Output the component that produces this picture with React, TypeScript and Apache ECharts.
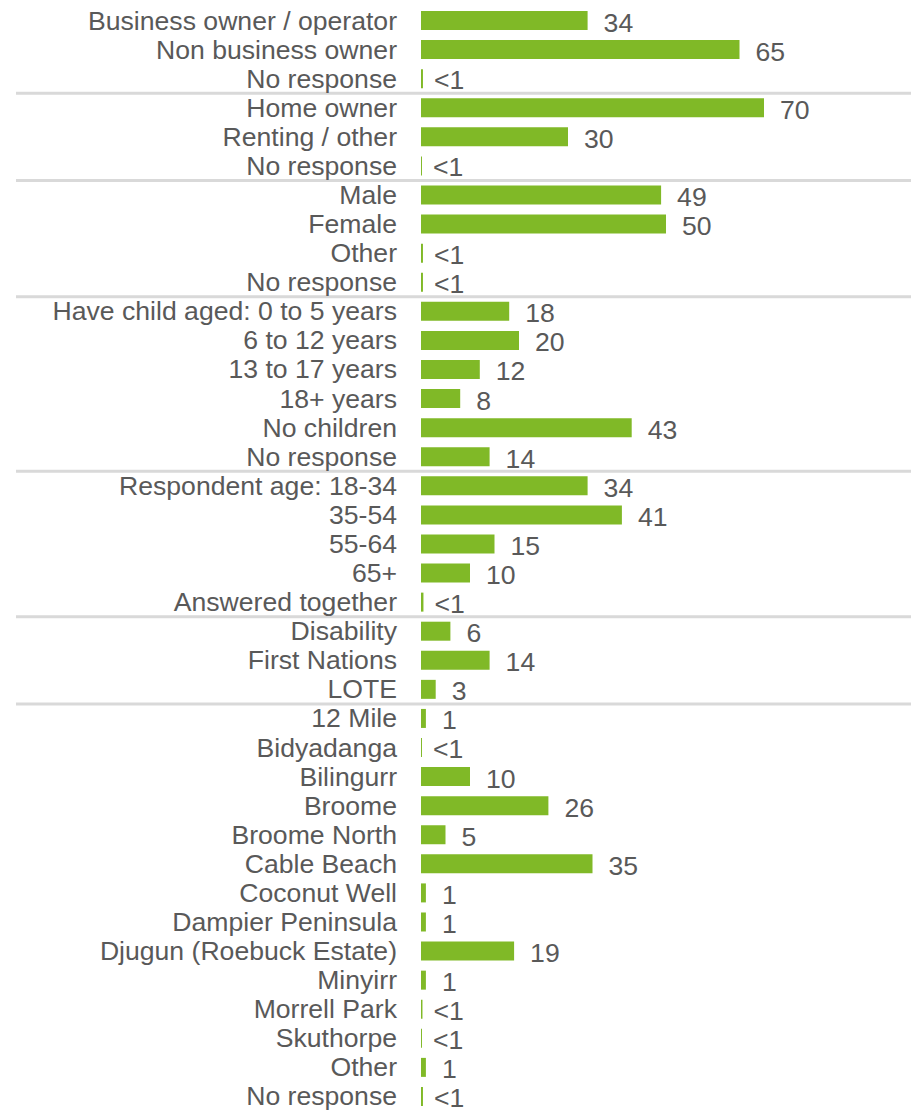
import React, { useEffect, useRef } from "react";
import * as echarts from "echarts";

const categories: string[] = [
  "Business owner / operator", "Non business owner", "No response",
  "Home owner", "Renting / other", "No response",
  "Male", "Female", "Other", "No response",
  "Have child aged: 0 to 5 years", "6 to 12 years", "13 to 17 years", "18+ years", "No children", "No response",
  "Respondent age: 18-34", "35-54", "55-64", "65+", "Answered together",
  "Disability", "First Nations", "LOTE",
  "12 Mile", "Bidyadanga", "Bilingurr", "Broome", "Broome North", "Cable Beach", "Coconut Well",
  "Dampier Peninsula", "Djugun (Roebuck Estate)", "Minyirr", "Morrell Park", "Skuthorpe", "Other", "No response",
];

const values: number[] = [
  34, 65, 0.4,
  70, 30, 0.2,
  49, 50, 0.4, 0.4,
  18, 20, 12, 8, 43, 14,
  34, 41, 15, 10, 0.5,
  6, 14, 3,
  1, 0.2, 10, 26, 5, 35, 1,
  1, 19, 1, 0.3, 0.2, 1, 0.4,
];

// index of the first category of each group after the first
const groupStarts: number[] = [3, 6, 10, 16, 21, 24];

const xMax = 100;

export default function App() {
  const ref = useRef<HTMLDivElement>(null);
  useEffect(() => {
    if (!ref.current) return;
    const chart = echarts.init(ref.current, undefined, { renderer: "svg" });
    const textColor = "#595959";
    const font = "Liberation Sans, Arial, sans-serif";
    const fs = 26.6;
    chart.setOption({
      animation: false,
      grid: { left: 421, right: 0, top: 6, bottom: 0, containLabel: false },
      xAxis: { type: "value", min: 0, max: xMax, show: false },
      yAxis: {
        type: "category",
        data: categories,
        inverse: true,
        axisLine: { show: false },
        axisTick: { show: false },
        splitLine: { show: false },
        axisLabel: {
          margin: 24,
          color: textColor,
          fontSize: fs,
          lineHeight: 22,
          fontFamily: font,
          interval: 0,
        },
      },
      series: [
        {
          type: "bar",
          data: values.map((v) =>
            v < 1 ? { value: v, label: { offset: [-5, 1.5] } } : { value: v }
          ),
          barWidth: 19,
          itemStyle: { color: "#80B927" },
          label: {
            show: true,
            position: "right",
            distance: 16,
            offset: [0, 2],
            color: textColor,
            fontSize: fs,
            lineHeight: 20,
            fontFamily: font,
            formatter: (p: any) => (p.value < 1 ? "<1" : String(Math.round(p.value))),
          },
        },
      ],
    });
    const lines = groupStarts.map((i) => {
      const a = chart.convertToPixel({ yAxisIndex: 0 }, i - 1) as number;
      const b = chart.convertToPixel({ yAxisIndex: 0 }, i) as number;
      const y = (a + b) / 2;
      return {
        type: "line",
        shape: { x1: 16, y1: y, x2: 911, y2: y },
        style: { stroke: "#D9D9D9", lineWidth: 3 },
        silent: true,
      };
    });
    chart.setOption({ graphic: lines });
    return () => chart.dispose();
  }, []);
  return (
    <div
      ref={ref}
      style={{ position: "absolute", left: 0, top: 0, width: 911, height: 1111 }}
    />
  );
}
